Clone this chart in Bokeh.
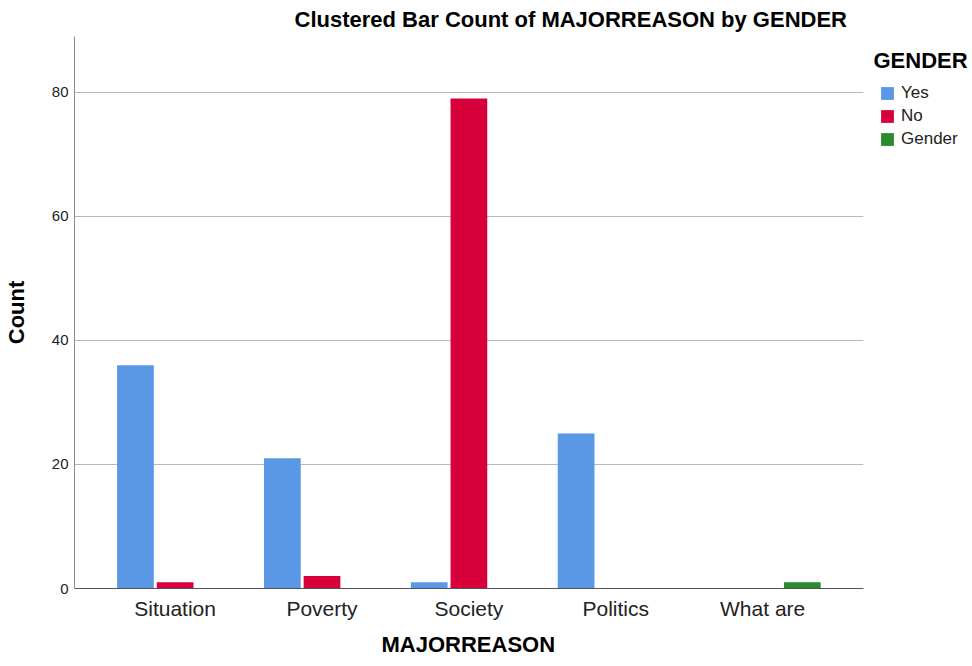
import numpy as np
from bokeh.plotting import figure
from bokeh.models import (Range1d, FixedTicker, Legend, LegendItem, Label, Title,
                          BoxAnnotation, ColumnDataSource)
from bokeh.embed import file_html
from bokeh.resources import INLINE

# ---- data ----
categories = ["Situation", "Poverty", "Society", "Politics", "What are"]
series_names = ["Yes", "No", "Gender"]
yes_counts = [36, 21, 1, 25, 0]
no_counts = [1, 2, 79, 0, 0]
gender_counts = [0, 0, 0, 0, 1]
y_ticks = [0, 20, 40, 60, 80]
title_text = "Clustered Bar Count of MAJORREASON by GENDER"
x_label = "MAJORREASON"
y_label = "Count"
legend_title = "GENDER"

colors = ["#5A97E5", "#D7003B", "#2B8A2B"]
FONT = "Liberation Sans"

x_idx = np.arange(len(categories))
X_LO, X_HI = -0.685, len(categories) - 1 + 0.685   # axis extent
X_END = X_HI + 0.73                                  # room for legend

p = figure(width=970, height=664,
           x_range=Range1d(X_LO, X_END), y_range=Range1d(0, 89),
           output_backend="svg", toolbar_location=None,
           min_border_left=73, min_border_right=0,
           min_border_top=36, min_border_bottom=76)
p.outline_line_color = None
p.background_fill_color = "white"

offsets = [-0.27, 0.0, 0.27]
series_values = [yes_counts, no_counts, gender_counts]
renderers = []
for off, vals, c in zip(offsets, series_values, colors):
    src = ColumnDataSource(dict(x=x_idx + off, top=vals))
    r = p.vbar(x="x", top="top", width=0.25, source=src,
               fill_color=c, line_color=None)
    renderers.append(r)

# axes
p.yaxis.ticker = FixedTicker(ticks=y_ticks)
p.yaxis.major_tick_line_color = None
p.yaxis.major_tick_out = 0
p.yaxis.major_tick_in = 0
p.yaxis.minor_tick_line_color = None
p.yaxis.minor_tick_out = 0
p.yaxis.axis_line_color = "#8a8a8a"
p.yaxis.major_label_text_font = FONT
p.yaxis.major_label_text_font_size = "15px"
p.yaxis.major_label_text_color = "#222222"
p.yaxis.major_label_standoff = 6
p.yaxis.axis_label = y_label
p.yaxis.axis_label_text_font = FONT
p.yaxis.axis_label_text_font_size = "22px"
p.yaxis.axis_label_text_font_style = "bold"
p.yaxis.axis_label_text_color = "#000000"
p.yaxis.axis_label_standoff = 20

p.xaxis.ticker = FixedTicker(ticks=list(x_idx))
p.xaxis.major_label_overrides = {int(i): c for i, c in zip(x_idx, categories)}
p.xaxis.bounds = (X_LO, X_HI)
p.xaxis.major_tick_line_color = None
p.xaxis.major_tick_out = 0
p.xaxis.major_tick_in = 0
p.xaxis.minor_tick_line_color = None
p.xaxis.minor_tick_out = 0
p.xaxis.axis_line_color = "#555555"
p.xaxis.major_label_text_font = FONT
p.xaxis.major_label_text_font_size = "21px"
p.xaxis.major_label_text_color = "#222222"
p.xaxis.major_label_standoff = 8

p.xgrid.grid_line_color = None
p.ygrid.grid_line_color = "#b8b8b8"
p.ygrid.grid_line_width = 1

# white cover so grid lines stop at the axis end (legend area)
p.add_layout(BoxAnnotation(left=X_HI, fill_color="white", fill_alpha=1.0,
                           line_color=None))

# title
p.title.text = title_text
p.title.text_font = FONT
p.title.text_font_size = "22px"
p.title.text_font_style = "bold"
p.title.text_color = "#000000"
p.title.align = "left"
p.title.offset = 220
p.title.standoff = 9

# x axis label as a below title, aligned with the axis extent
p.add_layout(Title(text=x_label, text_font=FONT, text_font_size="22px",
                   text_font_style="bold", text_color="#000000",
                   align="left", offset=307, standoff=14), "below")

# legend inside the (extended) frame
items = [LegendItem(label=n, renderers=[r]) for n, r in zip(series_names, renderers)]
legend = Legend(items=items, location=(805, 439), padding=0, margin=0,
                border_line_color=None, background_fill_alpha=0,
                glyph_width=16, glyph_height=16, label_height=16, spacing=3,
                label_standoff=6, label_text_font=FONT,
                label_text_font_size="17px", label_text_color="#222222")
p.add_layout(legend)

p.add_layout(Label(x=799, y=528, x_units="screen", y_units="screen",
                   text=legend_title, text_font=FONT, text_font_size="22px",
                   text_font_style="bold", text_baseline="alphabetic",
                   text_color="#000000"))

open("out.html", "w").write(file_html(p, INLINE))
